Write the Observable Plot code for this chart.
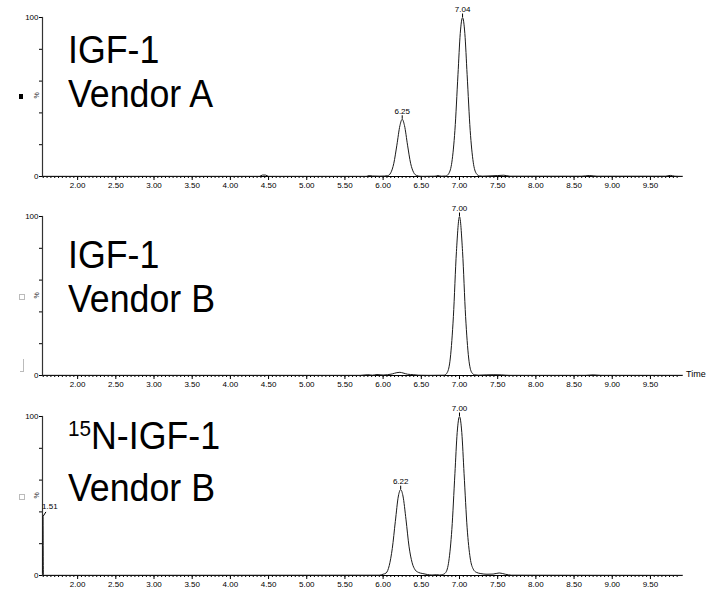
<!DOCTYPE html>
<html>
<head>
<meta charset="utf-8">
<script src="https://cdn.jsdelivr.net/npm/d3@7"></script>
<script src="https://cdn.jsdelivr.net/npm/@observablehq/plot@0.6"></script>
<style>
  html, body { margin: 0; padding: 0; background: #fff; overflow: hidden; }
  #wrap { position: relative; width: 711px; }
  .panel { position: relative; width: 711px; height: 200px; }
  .panel svg { display: block; }
  .big { position: absolute; left: 68px; font-family: "Liberation Sans", Arial, sans-serif; font-size: 38px; line-height: 44px; color: #000; transform: scaleX(0.94); transform-origin: left top; white-space: nowrap; }
  .pct { position: absolute; font-family: "Liberation Sans", Arial, sans-serif; font-size: 7px; transform: rotate(-90deg); color: #333; }
  .art { position: absolute; }
  .time { position: absolute; font-family: "Liberation Sans", Arial, sans-serif; font-size: 9px; color: #000; }
</style>
</head>
<body>
<div id="wrap"></div>
<script>
// ---- Axis ticks ----
const xDomain = [1.54, 9.92];
const xMajorTicks = [2.00, 2.50, 3.00, 3.50, 4.00, 4.50, 5.00, 5.50, 6.00, 6.50, 7.00, 7.50, 8.00, 8.50, 9.00, 9.50];
const xMinorTicks = d3.range(1.55, 9.90, 0.05);
const yTicks = [0, 20, 40, 60, 80, 100];
const yLabelled = [0, 100];

// ---- Panel titles ----
const titles = [["IGF-1", "Vendor A"], ["IGF-1", "Vendor B"], ["N-IGF-1", "Vendor B"]];
const isotopeSup = "15";

// ---- Trace 1: IGF-1 Vendor A (time, relative abundance %) ----
const timeA = [1.54, 4.38, 4.42, 4.46, 4.50, 5.78, 5.82, 5.86, 5.95, 6.02, 6.06, 6.10, 6.14, 6.18, 6.22, 6.25, 6.28, 6.32, 6.36, 6.40, 6.44, 6.48, 6.52, 6.68, 6.72, 6.76, 6.82, 6.86, 6.90, 6.94, 6.98, 7.01, 7.04, 7.07, 7.10, 7.14, 7.18, 7.22, 7.26, 7.30, 7.36, 7.50, 7.58, 7.66, 8.60, 8.70, 8.80, 9.70, 9.76, 9.82, 9.92];
const valA  = [0.1, 0.1, 0.9, 0.9, 0.1, 0.1, 0.6, 0.3, 0.2, 0.3, 0.5, 2.3, 8.3, 19.7, 32, 36, 32, 19.7, 8.3, 2.5, 0.6, 0.2, 0.1, 0.2, 0.6, 0.2, 0.3, 1.9, 9, 29, 64, 90, 100, 90, 64, 29, 9, 1.9, 0.4, 0.2, 0.3, 0.6, 0.8, 0.2, 0.2, 0.6, 0.2, 0.2, 0.7, 0.2, 0.1];
const peaksA = [{t: 6.25, v: 36, label: "6.25"}, {t: 7.04, v: 100, label: "7.04"}];

// ---- Trace 2: IGF-1 Vendor B ----
const timeB = [1.54, 5.70, 5.80, 5.86, 5.92, 6.00, 6.06, 6.12, 6.18, 6.22, 6.26, 6.32, 6.40, 6.46, 6.60, 6.80, 6.84, 6.88, 6.92, 6.96, 7.00, 7.04, 7.08, 7.12, 7.16, 7.20, 7.25, 7.35, 7.45, 7.55, 7.65, 8.65, 8.75, 8.85, 9.92];
const valB  = [0.1, 0.1, 0.5, 0.2, 0.6, 0.3, 0.5, 1.0, 1.8, 2.0, 1.6, 0.8, 0.5, 0.2, 0.1, 0.2, 1.9, 11, 37, 78, 100, 78, 37, 11, 1.9, 0.4, 0.2, 0.4, 0.5, 0.4, 0.1, 0.1, 0.4, 0.1, 0.1];
const peaksB = [{t: 7.00, v: 100, label: "7.00"}];

// ---- Trace 3: 15N-IGF-1 Vendor B ----
const timeC = [1.54, 1.545, 1.552, 1.56, 5.95, 6.00, 6.04, 6.08, 6.12, 6.16, 6.20, 6.23, 6.26, 6.30, 6.34, 6.38, 6.42, 6.46, 6.52, 6.58, 6.64, 6.70, 6.74, 6.78, 6.82, 6.86, 6.90, 6.94, 6.97, 7.00, 7.03, 7.06, 7.10, 7.14, 7.18, 7.22, 7.28, 7.36, 7.44, 7.52, 7.60, 7.68, 9.92];
const valC  = [2, 37, 0.5, 0.1, 0.2, 0.8, 1.6, 6.2, 17, 34, 50, 54, 50, 35, 18, 8, 3.5, 2, 1.2, 0.6, 0.3, 0.5, 0.3, 0.6, 1.9, 9, 29, 64, 90, 100, 90, 64, 30, 11, 4, 2, 1.2, 0.8, 0.9, 1.6, 0.8, 0.2, 0.1];
const peaksC = [{t: 1.545, v: 37, label: "1.51", dx: 7, dy: -9}, {t: 6.23, v: 54, label: "6.22"}, {t: 7.00, v: 100, label: "7.00"}];

const traces = [
  {time: timeA, val: valA, peaks: peaksA, marginTop: 17},
  {time: timeB, val: valB, peaks: peaksB, marginTop: 16},
  {time: timeC, val: valC, peaks: peaksC, marginTop: 16}
];

const wrap = document.getElementById("wrap");

traces.forEach((tr, i) => {
  const rows = tr.time.map((t, k) => ({t, v: tr.val[k]}));
  const plain = tr.peaks.filter(p => !p.dx);
  const offset = tr.peaks.filter(p => p.dx);
  const chart = Plot.plot({
    width: 711,
    height: 200,
    marginTop: tr.marginTop,
    marginBottom: 200 - tr.marginTop - 159,
    marginLeft: 42,
    marginRight: 29,
    x: {domain: xDomain, label: null},
    y: {domain: [0, 100], label: null},
    style: {fontFamily: "'Liberation Sans', Arial, sans-serif", fontSize: "8px", color: "#000", background: "#fff", overflow: "visible"},
    marks: [
      Plot.axisX(xMinorTicks, {tickSize: 2, tickFormat: () => "", stroke: "#000", label: null}),
      Plot.axisX(xMajorTicks, {tickSize: 4, tickPadding: 2, tickFormat: d => d.toFixed(2), fontSize: 8, letterSpacing: "-0.5px", label: null}),
      Plot.axisY(yTicks, {tickSize: 3, tickPadding: 1, tickFormat: d => yLabelled.includes(d) ? String(d) : "", fontSize: 8, letterSpacing: "-0.5px", label: null}),
      Plot.ruleY([0], {stroke: "#000", strokeWidth: 1.2}),
      Plot.frame({anchor: "left", stroke: "#333", strokeWidth: 1.2}),
      Plot.line(rows, {x: "t", y: "v", curve: "monotone-x", stroke: "#1a1a1a", strokeWidth: 1}),
      Plot.ruleX(plain, {x: "t", y1: "v", y2: d => d.v + 2.2, stroke: "#000"}),
      Plot.text(plain, {x: "t", y: "v", text: "label", dy: -8, fontSize: 8, letterSpacing: "-0.4px", fill: "#000"}),
      Plot.link(offset, {x1: "t", y1: d => d.v, x2: d => d.t + 0.04, y2: d => d.v + 3, stroke: "#000"}),
      Plot.text(offset, {x: "t", y: "v", text: "label", dx: 7, dy: -10, fontSize: 8, letterSpacing: "-0.4px", fill: "#000"})
    ]
  });

  const panel = document.createElement("div");
  panel.className = "panel";
  panel.appendChild(chart);

  const big = document.createElement("div");
  big.className = "big";
  if (i === 2) {
    big.style.top = "13px";
    big.style.lineHeight = "47px";
    big.innerHTML = `<span style="font-size:22px;position:relative;top:-13px;">${isotopeSup}</span>${titles[i][0]}<br>${titles[i][1]}`;
  } else {
    big.style.top = (i === 0 ? 28 : 33) + "px";
    big.innerHTML = `${titles[i][0]}<br>${titles[i][1]}`;
  }
  panel.appendChild(big);

  const pct = document.createElement("div");
  pct.className = "pct";
  pct.style.left = "33px";
  pct.style.top = "92px";
  pct.textContent = "%";
  panel.appendChild(pct);

  const art = document.createElement("div");
  art.className = "art";
  art.style.left = "19px";
  art.style.top = "94px";
  art.style.width = "4px";
  art.style.height = "5px";
  if (i === 0) { art.style.background = "#000"; }
  else { art.style.border = "1px solid #bbb"; art.style.width = "4px"; art.style.height = "4px"; }
  panel.appendChild(art);

  if (i === 1) {
    const t = document.createElement("div");
    t.className = "time";
    t.style.left = "686px";
    t.style.top = "169px";
    t.textContent = "Time";
    panel.appendChild(t);
    const br = document.createElement("div");
    br.className = "art";
    br.style.left = "20px"; br.style.top = "159px"; br.style.width = "3px"; br.style.height = "12px";
    br.style.borderRight = "1px solid #bbb"; br.style.borderBottom = "1px solid #bbb";
    panel.appendChild(br);
  }
  wrap.appendChild(panel);
});
</script>
</body>
</html>
